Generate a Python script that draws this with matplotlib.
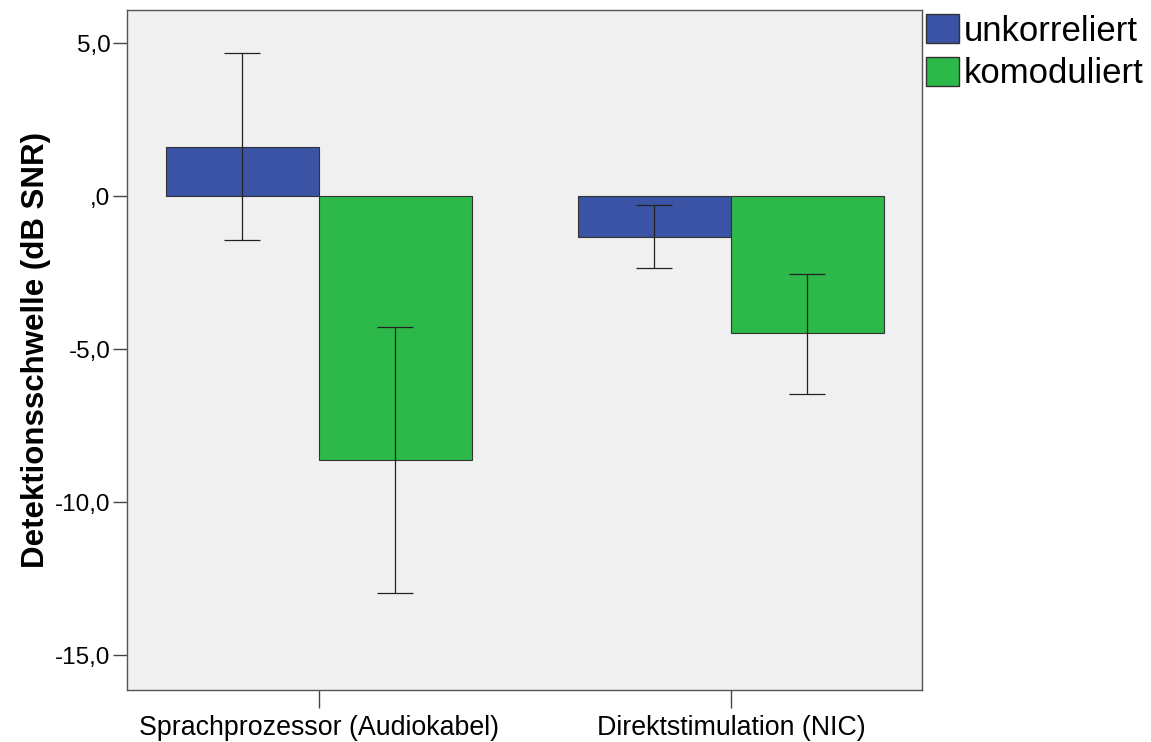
import matplotlib
matplotlib.use("Agg")
import matplotlib.pyplot as plt
import numpy as np
from matplotlib.patches import Patch

# ---------- data ----------
categories = ["Sprachprozessor (Audiokabel)", "Direktstimulation (NIC)"]
series_names = ["unkorreliert", "komoduliert"]
means_unkorr = [1.60, -1.34]
means_komod = [-8.63, -4.48]
err_lo_unkorr = [-1.44, -2.35]
err_hi_unkorr = [4.67, -0.29]
err_lo_komod = [-12.97, -6.47]
err_hi_komod = [-4.28, -2.55]
yticks = [5.0, 0.0, -5.0, -10.0, -15.0]
ytick_labels = ["5,0", ",0", "-5,0", "-10,0", "-15,0"]

blue = "#3a53a4"
green = "#2db84a"
bg = "#f0f0f0"
edge = "#333333"
# --------------------------

plt.rcParams["font.family"] = ["Liberation Sans", "DejaVu Sans"]

fig = plt.figure(figsize=(11.51, 7.42), dpi=100)
ax = fig.add_axes([0.1103, 0.0701, 0.6907, 0.9164])
ax.set_facecolor(bg)

x = np.arange(len(categories))
w = 0.371

for vals, lo, hi, col, off in [
    (means_unkorr, err_lo_unkorr, err_hi_unkorr, blue, -w / 2),
    (means_komod, err_lo_komod, err_hi_komod, green, w / 2),
]:
    ax.bar(x + off, vals, width=w, color=col, edgecolor=edge, linewidth=0.8, zorder=2)
    vals = np.array(vals)
    yerr = np.array([vals - np.array(lo), np.array(hi) - vals])
    ax.errorbar(x + off, vals, yerr=yerr, fmt="none", ecolor="#222222",
                elinewidth=0.9, capsize=13, capthick=0.9, zorder=3)

ax.set_xlim(-0.466, 1.464)
ax.set_ylim(-16.14, 6.08)
ax.set_xticks(x)
ax.set_xticklabels(categories, fontsize=19.3)
ax.set_yticks(yticks)
ax.set_yticklabels(ytick_labels, fontsize=17.5)
ax.tick_params(axis="x", direction="out", length=13, width=1, color="#444444", pad=5)
ax.tick_params(axis="y", direction="out", length=10, width=1, color="#444444", pad=2)
ax.set_ylabel("Detektionsschwelle (dB SNR)", fontsize=22.5, fontweight="bold", labelpad=3)

for s in ax.spines.values():
    s.set_color("#555555")
    s.set_linewidth(1)

handles = [Patch(facecolor=blue, edgecolor=edge, label=series_names[0]),
           Patch(facecolor=green, edgecolor=edge, label=series_names[1])]
ax.legend(handles=handles, loc="upper left", bbox_to_anchor=(0.9962, 1.004),
          frameon=False, fontsize=25, handlelength=0.95, handleheight=0.9,
          handletextpad=0.14, labelspacing=0.27, borderaxespad=0, borderpad=0.2)

fig.savefig("out.png", dpi=100, facecolor="white")
